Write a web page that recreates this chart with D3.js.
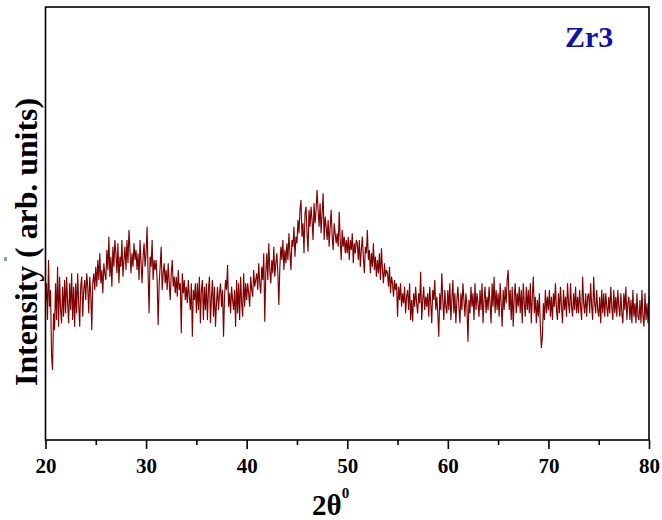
<!DOCTYPE html>
<html>
<head>
<meta charset="utf-8">
<script src="https://cdn.jsdelivr.net/npm/d3@7"></script>
<style>
  html, body { margin: 0; padding: 0; background: #fff; }
  svg { display: block; }
</style>
</head>
<body>
<svg id="chart" width="662" height="520"></svg>
<script>
// ---- data (2θ from 20° to 80°, step 0.1°) ----
const thetaStart = 20;
const thetaStep = 0.1;
const intensity = [
  410,470,360,540,400,450,255,210,380,330,
  470,360,520,340,490,390,350,460,370,480,
  380,490,410,350,470,390,500,360,460,340,
  470,380,500,410,340,460,490,370,450,480,
  420,500,460,380,490,440,330,470,500,450,
  520,460,540,480,560,470,510,440,530,500,
  480,570,510,610,490,550,460,580,520,600,
  560,500,590,470,550,520,600,490,540,580,
  510,600,530,630,570,500,560,520,590,540,
  570,510,560,480,600,530,470,550,590,520,
  560,640,500,380,550,520,600,480,540,510,
  540,480,345,470,520,580,450,500,530,470,
  510,450,530,470,420,500,540,460,490,440,
  490,430,510,450,470,320,500,440,480,420,
  460,410,480,430,390,470,310,450,420,470,
  380,470,390,490,350,450,480,360,460,390,
  470,360,450,490,350,430,480,370,460,340,
  410,460,390,440,470,400,450,310,430,480,
  450,525,400,440,380,460,420,390,450,340,
  480,380,470,360,490,410,370,500,400,470,
  420,470,440,400,490,450,430,510,460,480,
  500,450,530,470,440,520,480,560,355,500,
  560,480,590,510,470,540,500,580,490,530,
  560,500,405,520,580,540,600,510,570,530,
  590,540,620,560,510,600,580,640,550,610,
  590,660,620,690,720,610,650,560,680,700,
  620,565,690,640,700,660,600,710,650,690,
  750,690,640,710,620,680,740,600,670,640,
  600,660,580,640,690,610,570,650,620,590,
  620,580,685,600,540,630,580,610,560,600,
  560,610,540,600,570,620,530,590,560,600,
  590,540,600,520,570,610,550,500,580,560,
  630,540,570,500,560,520,590,510,550,490,
  540,500,560,480,575,510,470,530,490,510,
  500,460,520,440,490,470,430,480,450,470,
  370,460,420,470,400,440,410,460,380,430,
  450,390,470,360,420,355,440,400,460,410,
  380,440,410,505,360,420,460,390,430,400,
  440,370,460,410,350,450,420,480,390,430,
  380,310,440,390,500,420,360,450,400,380,
  450,390,470,360,420,480,380,440,350,420,
  460,400,350,440,390,470,420,370,440,400,
  295,420,380,460,400,440,360,470,390,440,
  410,370,450,390,470,350,420,460,380,430,
  390,460,410,350,470,400,490,380,450,390,
  440,370,470,410,340,450,390,460,410,480,
  510,390,450,360,460,340,430,470,380,440,
  400,460,380,450,350,470,410,370,460,390,
  450,380,470,350,430,490,380,430,350,420,
  370,440,340,276,310,410,360,450,380,430,
  390,450,370,430,360,440,400,470,390,360,
  440,380,460,400,350,450,390,430,370,470,
  410,380,470,400,370,440,390,460,380,430,
  380,450,400,360,490,410,380,440,370,430,
  440,380,470,400,360,490,410,380,450,390,
  370,430,350,450,380,440,370,440,400,370,
  430,380,460,400,360,450,380,430,370,450,
  400,370,440,380,350,440,390,460,360,410,
  430,360,420,350,450,370,410,350,440,370,
  360,420,350,450,370,340,440,360,410,350,
  430
];
const majorTicks = [20, 30, 40, 50, 60, 70, 80];
const minorTicks = [25, 35, 45, 55, 65, 75];
const xLabel = "2θ";
const xLabelSup = "0";
const yLabel = "Intensity ( arb. units)";
const sampleName = "Zr3";

const points = intensity.map((v, i) => ({ x: thetaStart + i * thetaStep, y: v }));

// ---- layout ----
const svg = d3.select("#chart");
const plotL = 45.5, plotR = 649, plotT = 7, plotB = 440;
const x = d3.scaleLinear().domain([20, 80]).range([plotL, plotR]);
const y = d3.scaleLinear().domain([0, 1299]).range([plotB, plotT]);

svg.append("rect").attr("width", 662).attr("height", 520).attr("fill", "#fff");

// data line
svg.append("path")
  .datum(points)
  .attr("fill", "none")
  .attr("stroke", "#800000")
  .attr("stroke-width", 1.15)
  .attr("stroke-linejoin", "miter")
  .attr("d", d3.line().x(d => x(d.x)).y(d => y(d.y)));

// frame
svg.append("rect")
  .attr("x", plotL).attr("y", plotT)
  .attr("width", plotR - plotL).attr("height", plotB - plotT)
  .attr("fill", "none").attr("stroke", "#000").attr("stroke-width", 1.6);

// x axis major
const gx = svg.append("g").attr("transform", `translate(0,${plotB})`)
  .call(d3.axisBottom(x).tickValues(majorTicks).tickSize(9).tickPadding(9).tickFormat(d3.format("d")));
gx.select(".domain").remove();
gx.selectAll(".tick line").attr("stroke", "#000").attr("stroke-width", 1.6);
gx.selectAll(".tick text")
  .attr("fill", "#000")
  .style("font-family", "'Liberation Serif', 'Times New Roman', serif")
  .style("font-weight", "bold")
  .style("font-size", "21px");

// x axis minor
const gxm = svg.append("g").attr("transform", `translate(0,${plotB})`)
  .call(d3.axisBottom(x).tickValues(minorTicks).tickSize(5).tickFormat(""));
gxm.select(".domain").remove();
gxm.selectAll(".tick line").attr("stroke", "#000").attr("stroke-width", 1.6);

// x label
const xl = svg.append("text")
  .attr("x", 312).attr("y", 515)
  .style("font-family", "'Liberation Serif', 'Times New Roman', serif")
  .style("font-weight", "bold")
  .style("font-size", "29px")
  .attr("fill", "#000");
xl.append("tspan").text(xLabel);
xl.append("tspan").attr("dy", -17).style("font-size", "15px").text(xLabelSup);

// y label
svg.append("text")
  .attr("transform", "translate(37,242) rotate(-90)")
  .attr("text-anchor", "middle")
  .attr("textLength", 288)
  .attr("lengthAdjust", "spacingAndGlyphs")
  .style("font-family", "'Liberation Serif', 'Times New Roman', serif")
  .style("font-weight", "bold")
  .style("font-size", "32px")
  .attr("fill", "#000")
  .text(yLabel);

// sample name
svg.append("text")
  .attr("x", 565).attr("y", 47)
  .style("font-family", "'Liberation Serif', 'Times New Roman', serif")
  .style("font-weight", "bold")
  .style("font-size", "30px")
  .attr("fill", "#1212a6")
  .text(sampleName);

// small artifact mark at left
svg.append("rect").attr("x", 4).attr("y", 257).attr("width", 3).attr("height", 4).attr("fill", "#7b9bc8");
</script>
</body>
</html>
